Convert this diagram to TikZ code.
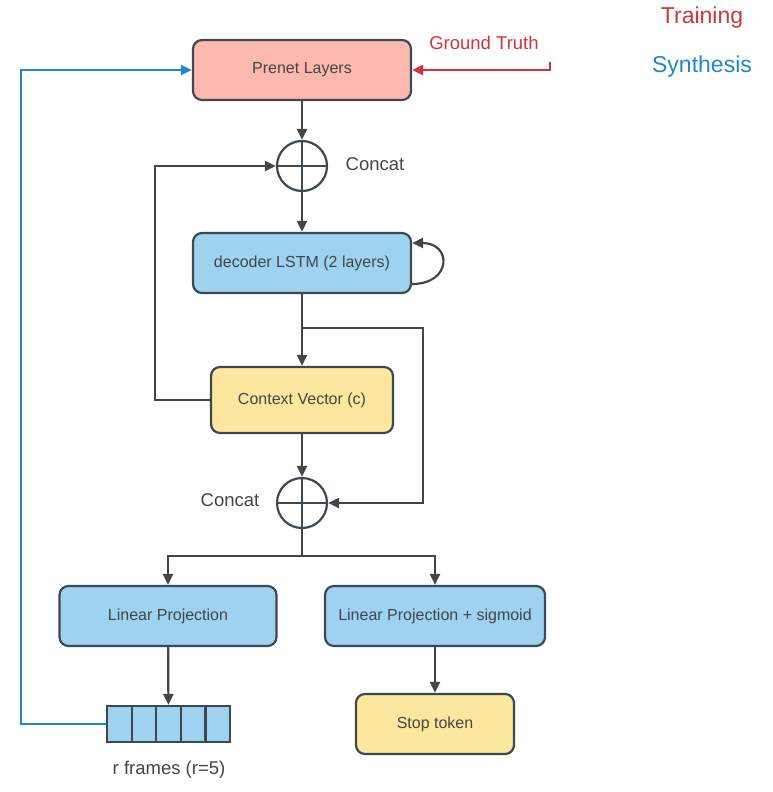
\documentclass[tikz,border=0pt]{standalone}
\usepackage{fontspec}
\setmainfont{Liberation Sans}
\usetikzlibrary{arrows.meta}

\definecolor{edgegray}{HTML}{3E4852}
\definecolor{textgray}{HTML}{454545}
\definecolor{salmon}{HTML}{FBB8AE}
\definecolor{skyfill}{HTML}{9DD2F1}
\definecolor{paleyellow}{HTML}{FCE79E}
\definecolor{trainred}{HTML}{D3333F}
\definecolor{synthblue}{HTML}{2088CC}

\begin{document}
\begin{tikzpicture}[
				      x=1pt, y=-1pt,
				      box/.style = {shape=rectangle, rounded corners=9pt,
						      draw=edgegray, line width=2.2pt, align=center,
						      text=textgray, font=\fontsize{16}{19}\selectfont,
						      minimum height=60pt},
				      opcircle/.style = {circle, draw=edgegray, line width=2.2pt,
						      minimum size=50pt, inner sep=0pt,
						      path picture={
							      \draw[edgegray, line width=1.8pt]
							      (path picture bounding box.north) -- (path picture bounding box.south)
							      (path picture bounding box.west) -- (path picture bounding box.east);}},
				      cell/.style = {rectangle, draw=edgegray, line width=2.2pt, fill=skyfill,
						      minimum width=24.6pt, minimum height=36pt, inner sep=0pt},
				      lbl/.style = {text=textgray, font=\fontsize{18.5}{22}\selectfont},
				      conn/.style = {draw=textgray, line width=2.2pt,
						      -{Triangle[length=11pt,width=10pt]}},
				      plain/.style = {draw=textgray, line width=2.2pt}
			      ]
			      \useasboundingbox (0,0) rectangle (773,792);

			      % boxes
			      \node[box, fill=salmon, minimum width=218pt] (prenet) at (302,70) {Prenet Layers};
			      \node[opcircle] (concatA) at (302,166) {};
			      \node[box, fill=skyfill, minimum width=218pt] (lstm) at (302,263) {decoder LSTM (2 layers)};
			      \node[box, fill=paleyellow, minimum width=182pt, minimum height=66pt] (ctx) at (302,400) {Context Vector (c)};
			      \node[opcircle] (concatB) at (302,503) {};
			      \node[box, fill=skyfill, minimum width=217pt] (linproj) at (168,616) {Linear Projection};
			      \node[box, fill=skyfill, minimum width=220pt] (sigproj) at (435,616) {Linear Projection + sigmoid};
			      \node[box, fill=paleyellow, minimum width=158pt] (stoptok) at (435,724) {Stop token};
			      \foreach \i in {0,...,4}
			      \node[cell] (frame\i) at (119.3+24.6*\i,724) {};

			      % labels
			      \node[lbl] (concatAlbl) at (375,164) {Concat};
			      \node[lbl] (concatBlbl) at (230,500) {Concat};
			      \node[lbl] (frameslbl) at (169,770) {r frames (r=5)};
			      \node[text=trainred, font=\fontsize{18.5}{22}\selectfont] (gtlbl) at (484,43) {Ground Truth};
			      \node[text=trainred, font=\fontsize{23}{27}\selectfont] (training) at (702,18) {Training};
			      \node[text=synthblue, font=\fontsize{23}{27}\selectfont] (synthesis) at (702,67) {Synthesis};

			      % connectors
			      \coordinate (split) at (302,328);
			      \coordinate (fork) at (302,556);
			      \coordinate (gt) at (550,62);

			      \draw[conn] (prenet) -- (concatA);
			      \draw[conn] (concatA) -- (lstm);
			      \draw[conn] (lstm) -- (ctx);
			      \draw[conn] (ctx) -- (concatB);
			      \draw[conn] (ctx.west) -- ++(-55,0) |- (concatA.west);
			      \draw[conn] (split) -- ++(121,0) |- (concatB.east);
			      \draw[conn] ([yshift=-21pt]lstm.east) .. controls (452,284) and (452,243) .. ([yshift=20pt]lstm.east);
			      \draw[plain] (concatB) -- (fork);
			      \draw[conn] (fork) -| (linproj);
			      \draw[conn] (fork) -| (sigproj);
			      \draw[conn] (linproj) -- (frame2);
			      \draw[conn] (sigproj) -- (stoptok);
			      \draw[conn, draw=trainred] (gt) |- (prenet.east);
			      \draw[conn, draw=synthblue] (frame0.west) -- ++(-85,0) |- (prenet.west);
		      \end{tikzpicture}
\end{document}
